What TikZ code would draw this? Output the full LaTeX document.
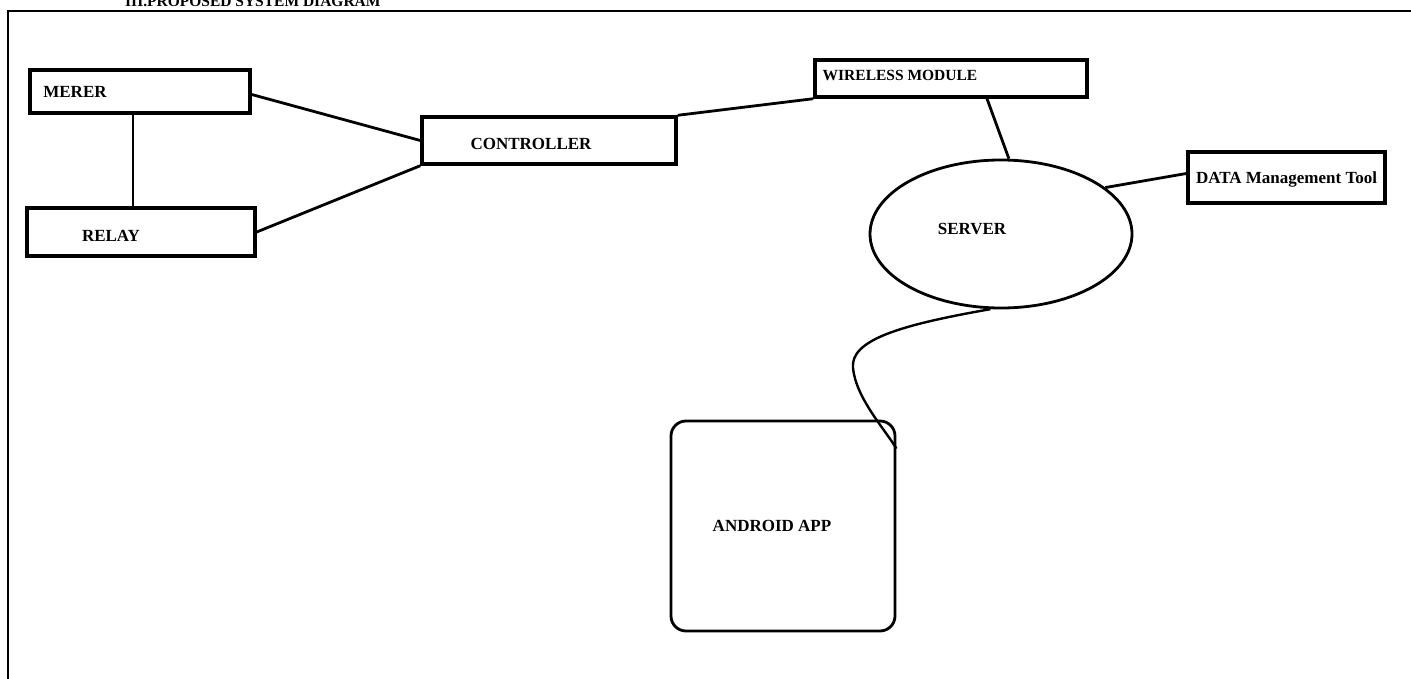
\documentclass[tikz,border=0pt]{standalone}
\usepackage{fontspec}
\setmainfont{Liberation Serif}
\usetikzlibrary{shapes.geometric,calc}
\tikzset{
  blk/.style={draw, line width=3.4pt, rectangle, inner sep=0pt},
  lbl/.style={font=\bfseries\fontsize{17}{20}\selectfont, inner sep=0pt},
  link/.style={line width=2.8pt},
}
\begin{document}
\begin{tikzpicture}[x=1pt,y=-1pt]
\clip (0,0) rectangle (1411,679);
\useasboundingbox (0,0) rectangle (1411,679);
% title (cut off at top)
\node[font=\bfseries\fontsize{15.5}{18}\selectfont, anchor=base west, inner sep=0pt] (title) at (125,7) {III.PROPOSED SYSTEM DIAGRAM};
% frame
\coordinate (ftr) at (1411,11);
\coordinate (ftl) at (8,11);
\coordinate (fbl) at (8,679);
\draw[line width=1.6pt] (ftr) -- (ftl) -- (fbl);
% boxes
\node[blk, minimum width=220, minimum height=43] (merer) at (140,91.5) {};
\node[lbl] (merert) at (75,92) {MERER};
\node[blk, minimum width=228, minimum height=48] (relay) at (141,232) {};
\node[lbl] (relayt) at (111,236) {RELAY};
\node[blk, minimum width=254, minimum height=47] (ctrl) at (549,140.5) {};
\node[lbl] (ctrlt) at (531,144) {CONTROLLER};
\node[blk, minimum width=272, minimum height=37] (wire) at (951,78.5) {};
\node[lbl, font=\bfseries\fontsize{15.5}{18}\selectfont] (wiret) at (900,75) {WIRELESS MODULE};
\node[blk, minimum width=197, minimum height=51] (data) at (1286.5,177.5) {};
\node[lbl] (datat) at (1286.5,179) {DATA Management Tool};
\node[draw, line width=2.8pt, ellipse, minimum width=262, minimum height=148, inner sep=0pt] (server) at (1001,234) {};
\node[lbl] (servert) at (972,229) {SERVER};
\node[draw, line width=2.8pt, rectangle, rounded corners=15pt, minimum width=224, minimum height=210, inner sep=0pt] (app) at (783,526) {};
\node[lbl] (appt) at (772,526) {ANDROID APP};
% connectors
\draw[link] (merer.south -| 133,0) -- (relay.north -| 133,0);
\draw[link] ($(merer.east)+(0,3)$) -- (ctrl.west);
\draw[link] (relay.east) -- (ctrl.south west);
\draw[link] (ctrl.north east) -- (wire.south west);
\draw[link] (wire.south -| 987,0) -- (server.84);
\draw[link] (server.24) -- ($(data.west)+(0,-4)$);
\coordinate (apptip) at ($(app.north east)+(0,29)$);
\draw[line width=2.4pt] (server.262) .. controls (900,325) and (850,340) .. (853,368) .. controls (856,398) and (884,428) .. (apptip);
\end{tikzpicture}
\end{document}
